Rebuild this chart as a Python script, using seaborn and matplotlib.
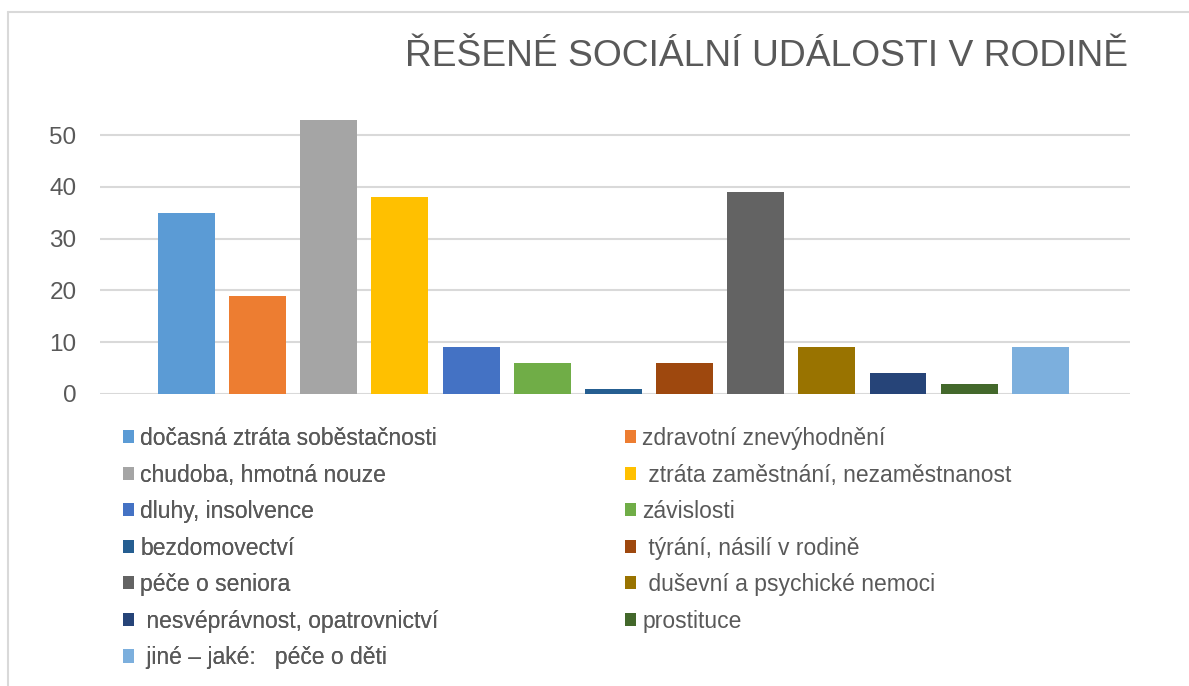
import matplotlib
matplotlib.use("Agg")
import matplotlib.pyplot as plt
import seaborn as sns
import pandas as pd
from matplotlib.patches import Patch
from matplotlib.lines import Line2D

categories = [
    "dočasná ztráta soběstačnosti",
    "zdravotní znevýhodnění",
    "chudoba, hmotná nouze",
    " ztráta zaměstnání, nezaměstnanost",
    "dluhy, insolvence",
    "závislosti",
    "bezdomovectví",
    " týrání, násilí v rodině",
    "péče o seniora",
    " duševní a psychické nemoci",
    " nesvéprávnost, opatrovnictví",
    "prostituce",
    " jiné – jaké:   péče o děti",
]
values = [35, 19, 53, 38, 9, 6, 1, 6, 39, 9, 4, 2, 9]
colors = ["#5B9BD5", "#ED7D31", "#A5A5A5", "#FFC000", "#4472C4", "#70AD47",
          "#255E91", "#9E480E", "#636363", "#997300", "#264478", "#43682B",
          "#7CAFDD"]
yticks = [0, 10, 20, 30, 40, 50]
title = "ŘEŠENÉ SOCIÁLNÍ UDÁLOSTI V RODINĚ"

sns.set_theme(style="white")
plt.rcParams["font.family"] = ["Liberation Sans", "DejaVu Sans"]

W, H = 1189, 686
fig = plt.figure(figsize=(W / 100, H / 100), dpi=100)

def fx(px):
    return px / W

def fy(py):
    return 1 - py / H

ax_left, ax_right, ax_top, ax_bottom = 100, 1130, 104, 394
ax = fig.add_axes([fx(ax_left), fy(ax_bottom), fx(ax_right - ax_left), (ax_bottom - ax_top) / H])

df = pd.DataFrame({"cat": categories, "val": values})
sns.barplot(data=df, x="cat", y="val", hue="cat", palette=colors, dodge=False,
            width=0.8, legend=False, ax=ax, saturation=1, zorder=3, linewidth=0)

ax.set_xlim(-1.215, 13.26)
ax.set_ylim(0, 56)
ax.set_yticks(yticks)
ax.set_yticklabels([str(t) for t in yticks], fontsize=17.5, color="#595959")
ax.set_xticks([])
ax.set_xlabel("")
ax.set_ylabel("")
ax.tick_params(axis="y", length=0, pad=17)
for s in ax.spines.values():
    s.set_visible(False)
ax.yaxis.grid(True, color="#d9d9d9", linewidth=1.5, zorder=0)
ax.set_axisbelow(True)

fig.text(fx(1128), fy(57), title, ha="right", va="center", fontsize=26.8, color="#595959")

# frame border
fig.add_artist(Line2D([fx(8), 1.0], [fy(12), fy(12)], color="#d9d9d9", linewidth=1.5))
fig.add_artist(Line2D([fx(8), fx(8)], [fy(12), 0.0], color="#d9d9d9", linewidth=1.5))

handles = [Patch(facecolor=c, edgecolor="none") for c in colors]
left_idx = list(range(0, 13, 2))
right_idx = list(range(1, 13, 2))

def make_leg(idx, x_px):
    leg = fig.legend([handles[i] for i in idx], [categories[i] for i in idx],
                     loc="upper left", bbox_to_anchor=(fx(x_px), fy(427)),
                     frameon=False, fontsize=16.5, handlelength=0.5, handleheight=0.5,
                     handletextpad=0.26, labelspacing=0.59, borderpad=0, borderaxespad=0,
                     labelcolor="#595959")
    return leg

l1 = make_leg(left_idx, 123)
fig.add_artist(l1)
l2 = make_leg(right_idx, 625)

fig.savefig("out.png", dpi=100)
